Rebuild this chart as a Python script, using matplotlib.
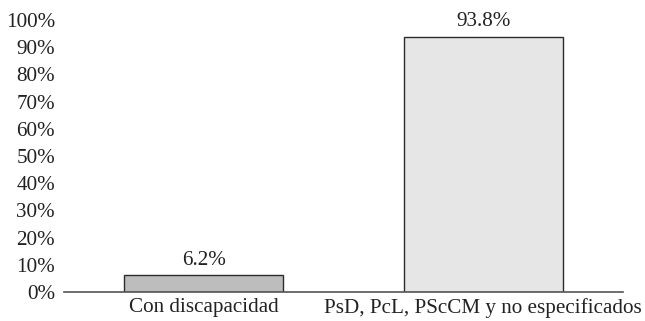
import matplotlib.pyplot as plt

# categories and percentages
categorias = ["Con discapacidad", "PsD, PcL, PScCM y no especificados"]
valores = [6.2, 93.8]
colores = ["#bdbdbd", "#e6e6e6"]
yticks = list(range(0, 101, 10))

plt.rcParams["font.family"] = ["Liberation Serif", "DejaVu Serif"]

fig = plt.figure(figsize=(6.45, 3.21), dpi=100)
ax = fig.add_axes([0.0992, 0.0903, 0.8668, 0.8474])

x = list(range(len(categorias)))
barras = ax.bar(x, valores, width=0.57, color=colores, edgecolor="#2b2b2b", linewidth=1.0, zorder=2)

# value labels above each bar
for xi, v in zip(x, valores):
    ax.annotate(f"{v}%", (xi, v), xytext=(0, 4), textcoords="offset points",
                ha="center", va="bottom", fontsize=15.2, color="#222222")

ax.set_xlim(-0.5, 1.5)
ax.set_ylim(0, 100)
ax.set_yticks(yticks)
ax.set_yticklabels([f"{t}%" for t in yticks], fontsize=15.2, color="#222222")
ax.set_xticks(x)
ax.set_xticklabels(categorias, fontsize=15.2, color="#222222")

ax.tick_params(axis="both", length=0)
ax.tick_params(axis="y", pad=6.5)
ax.tick_params(axis="x", pad=4.5)

for s in ["top", "right", "left"]:
    ax.spines[s].set_visible(False)
ax.spines["bottom"].set_color("#555555")
ax.spines["bottom"].set_linewidth(1.2)

fig.savefig("out.png", dpi=100)
